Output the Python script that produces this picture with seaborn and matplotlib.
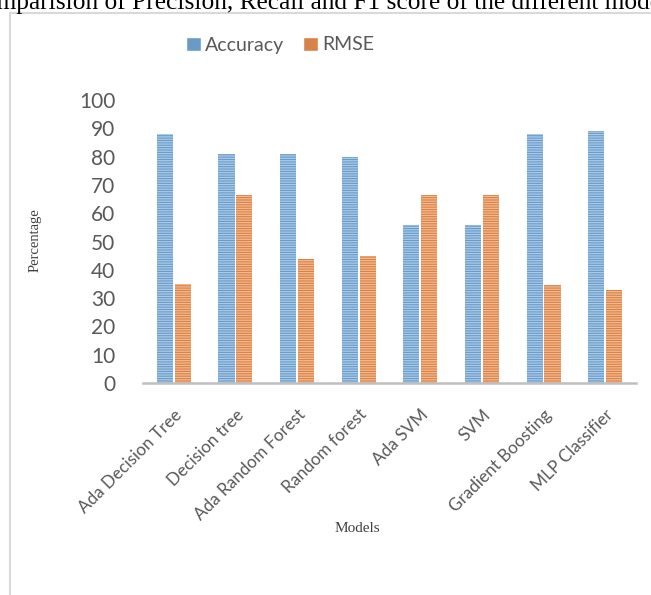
import matplotlib
matplotlib.use("Agg")
import matplotlib.pyplot as plt
from matplotlib.lines import Line2D
import seaborn as sns
import pandas as pd

models = ["Ada Decision Tree", "Decision tree", "Ada Random Forest", "Random forest",
          "Ada SVM", "SVM", "Gradient Boosting", "MLP Classifier"]
accuracy = [88, 81, 81, 80, 56, 56, 88, 89]
rmse = [35, 66.5, 43.8, 44.8, 66.5, 66.5, 34.8, 32.8]
yticks = [0, 10, 20, 30, 40, 50, 60, 70, 80, 90, 100]

df = pd.DataFrame({
    "Model": models * 2,
    "Value": accuracy + rmse,
    "Metric": ["Accuracy"] * len(models) + ["RMSE"] * len(models),
})

sns.set_style("white")
plt.rcParams["font.family"] = ["Lato", "DejaVu Sans"]
plt.rcParams["hatch.linewidth"] = 0.9

blue, orange = "#5B9BD5", "#ED7D31"
light = {blue: "#A9CBEA", orange: "#F6B98E"}
grey = "#595959"

fig = plt.figure(figsize=(6.51, 5.95), dpi=100)
ax = fig.add_axes([143 / 651, 1 - 383 / 595, 493 / 651, 283 / 595])

sns.barplot(data=df, x="Model", y="Value", hue="Metric", palette=[blue, orange],
            width=0.58, gap=0.1, ax=ax)

for cont, col in zip(ax.containers, [blue, orange]):
    for bar in cont:
        bar.set_edgecolor(light[col])
        bar.set_linewidth(0)
        bar.set_hatch("-------")

ax.set_ylim(0, 100)
ax.set_yticks(yticks)
ax.tick_params(axis="y", length=0, pad=20, labelsize=15, labelcolor=grey)
ax.tick_params(axis="x", length=0, pad=17, labelsize=12.3, labelcolor=grey)
plt.setp(ax.get_xticklabels(), rotation=45, ha="right", rotation_mode="anchor")
for s in ["top", "right", "left"]:
    ax.spines[s].set_visible(False)
ax.spines["bottom"].set_color("#BFBFBF")
ax.spines["bottom"].set_linewidth(1.8)

ax.set_xlabel("Models", family="Liberation Serif", fontsize=11, color="#404040")
ax.set_ylabel("Percentage", family="Liberation Serif", fontsize=10.5, color="#404040")
ax.xaxis.set_label_coords(0.434, -0.49)
ax.yaxis.set_label_coords(-0.205, 0.505)

handles, labels = ax.get_legend_handles_labels()
leg = ax.legend(handles, labels, loc="center", bbox_to_anchor=(280 / 651, 1 - 45 / 595),
                bbox_transform=fig.transFigure, ncol=2, frameon=False, fontsize=14,
                handlelength=0.75, handleheight=0.75, handletextpad=0.2, columnspacing=1.0)
for t in leg.get_texts():
    t.set_color(grey)

# chart frame edges and clipped caption from the page
fig.add_artist(Line2D([10 / 651, 10 / 651], [0, 1 - 13 / 595], color="#D9D9D9", lw=1.5))
fig.add_artist(Line2D([10 / 651, 1], [1 - 13 / 595, 1 - 13 / 595], color="#D9D9D9", lw=1.5))
fig.text(-33 / 651, 1 - 9 / 595, "Comparision of Precision, Recall and F1 score of the different models",
         family="Liberation Serif", fontsize=18.3, color="black", va="baseline", ha="left")

fig.savefig("out.png", dpi=100)
